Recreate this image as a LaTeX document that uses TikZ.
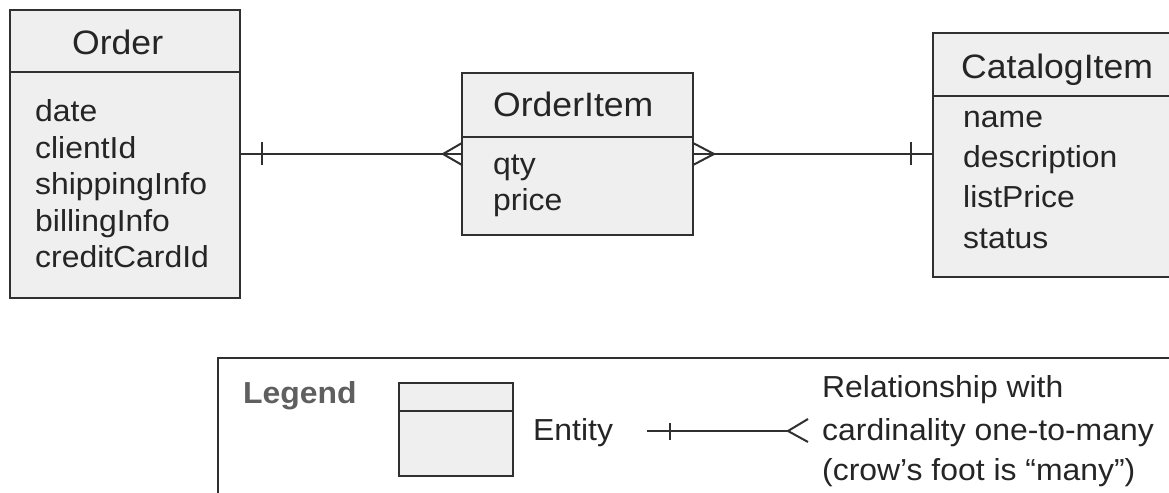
\documentclass[tikz,border=0pt]{standalone}
\usepackage{fontspec}
\setmainfont[FakeStretch=1.05]{Liberation Sans}
\usetikzlibrary{positioning}

\definecolor{boxfill}{HTML}{EFEFEF}
\definecolor{inkline}{HTML}{303030}
\definecolor{inktext}{HTML}{252525}
\definecolor{legendgray}{HTML}{5F5F5F}

\tikzset{
  entity/.style={draw=inkline, line width=2bp, fill=boxfill, inner sep=0pt, outer sep=0pt, anchor=north west},
  title/.style={font=\fontsize{34}{38}\selectfont, text=inktext, inner sep=0pt, anchor=base west},
  attr/.style={font=\fontsize{30.5}{36}\selectfont, text=inktext, inner sep=0pt, anchor=base west},
  link/.style={draw=inkline, line width=2bp},
}

\begin{document}
\begin{tikzpicture}[x=1bp,y=-1bp]
\clip (0,0) rectangle (1169,493);

% entities
\node (orderHead) at (10,10)[entity, minimum width=230bp, minimum height=62bp] {};
\node (orderBody) [entity, below=0pt of orderHead, minimum width=230bp, minimum height=226bp] {};
\node (itemHead) at (462,73)[entity, minimum width=231bp, minimum height=64bp] {};
\node (itemBody) [entity, below=0pt of itemHead, minimum width=231bp, minimum height=98bp] {};
\node (catHead) at (933,33)[entity, minimum width=300bp, minimum height=63bp] {};
\node (catBody) [entity, below=0pt of catHead, minimum width=300bp, minimum height=181bp] {};

\node (orderTitle) at (72,55)[title] {Order};
\node (orderA) at (35,122)[attr] {date};
\node (orderB) at (35,158.5)[attr] {clientId};
\node (orderC) at (35,195)[attr] {shippingInfo};
\node (orderD) at (35,231.5)[attr] {billingInfo};
\node (orderE) at (35,268)[attr] {creditCardId};

\node (itemTitle) at (493,117)[title] {OrderItem};
\node (itemA) at (493,175)[attr] {qty};
\node (itemB) at (493,211)[attr] {price};

\node (catTitle) at (961,79)[title] {CatalogItem};
\node (catA) at (963,128)[attr] {name};
\node (catB) at (963,168)[attr] {description};
\node (catC) at (963,208)[attr] {listPrice};
\node (catD) at (963,249)[attr] {status};

% relationships
\coordinate (link) at (0,154);
\draw[link] (orderBody.east |- link) -- (itemBody.west |- link);
\draw[link] (orderBody.east |- link) ++(22,-11.5) -- ++(0,23);
\draw[link] (itemBody.west |- link) ++(0,-11) -- ++(-19,11) -- ++(19,11);
\draw[link] (itemBody.east |- link) -- (catBody.west |- link);
\draw[link] (itemBody.east |- link) ++(0,-11) -- ++(21,11) -- ++(-21,11);
\draw[link] (catBody.west |- link) ++(-22,-11.5) -- ++(0,23);

% legend
\node (legend) at (218,358)[draw=inkline, line width=2bp, inner sep=0pt, outer sep=0pt, anchor=north west, minimum width=1000bp, minimum height=200bp] {};
\node (legendTitle) at (243,403)[attr, font=\fontsize{30.5}{36}\selectfont\bfseries, text=legendgray] {Legend};
\node (keyHead) at (399,383)[entity, minimum width=114bp, minimum height=28bp] {};
\node (keyBody) [entity, below=0pt of keyHead, minimum width=114bp, minimum height=65bp] {};
\node (keyText) at (533,440)[attr] {Entity};
\coordinate (keyOne) at (647,431);
\coordinate (keyMany) at (788,431);
\draw[link] (keyOne) -- (keyMany);
\draw[link] (keyOne) ++(23,-8.5) -- ++(0,17);
\draw[link] (keyMany) ++(20,-12) -- (keyMany) -- ++(20,11);
\node (relA) at (822,397)[attr] {Relationship with};
\node (relB) at (822,440)[attr] {cardinality one-to-many};
\node (relC) at (822,480)[attr] {(crow’s foot is “many”)};
\end{tikzpicture}
\end{document}
